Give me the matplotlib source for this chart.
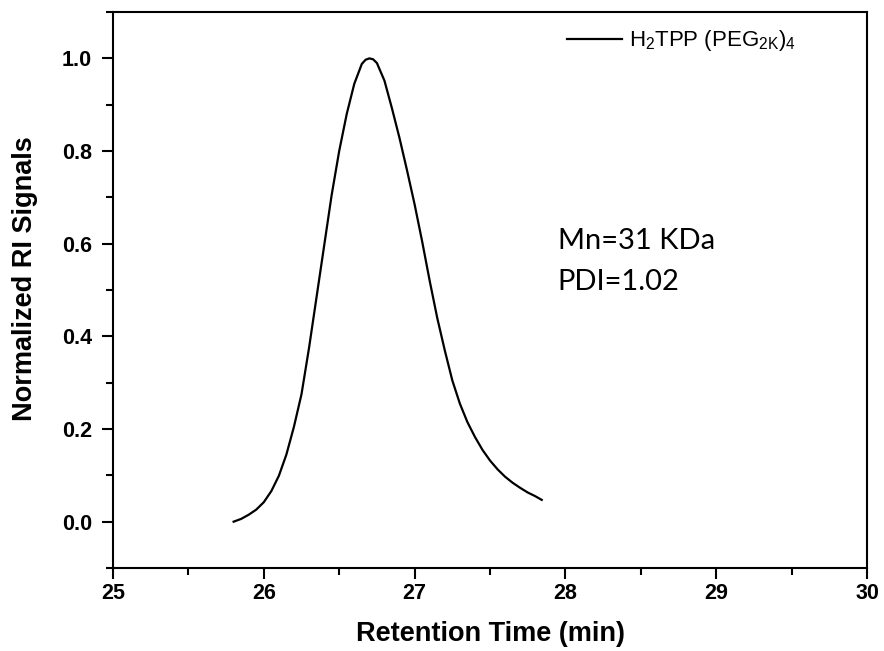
import matplotlib
matplotlib.use('Agg')
import matplotlib.pyplot as plt
from matplotlib.ticker import MultipleLocator

# ---- data ----
time_min = [25.80, 25.85, 25.90, 25.95, 26.00, 26.05, 26.10, 26.15, 26.20,
            26.25, 26.30, 26.35, 26.40, 26.45, 26.50, 26.55, 26.60, 26.65,
            26.675, 26.70, 26.725, 26.75, 26.80, 26.85, 26.90, 26.95, 27.00,
            27.05, 27.10, 27.15, 27.20, 27.25, 27.30, 27.35, 27.40, 27.45,
            27.50, 27.55, 27.60, 27.65, 27.70, 27.75, 27.80, 27.843]
ri_signal = [0.000, 0.006, 0.015, 0.026, 0.042, 0.066, 0.099, 0.145, 0.205,
             0.275, 0.375, 0.485, 0.595, 0.705, 0.800, 0.880, 0.945, 0.988,
             0.997, 1.000, 0.998, 0.990, 0.952, 0.892, 0.828, 0.758, 0.685,
             0.605, 0.520, 0.440, 0.370, 0.305, 0.255, 0.215, 0.183, 0.155,
             0.132, 0.113, 0.097, 0.084, 0.073, 0.063, 0.055, 0.047]
series_label = r'H$_2$TPP (PEG$_{2K}$)$_4$'
x_ticks = [25, 26, 27, 28, 29, 30]
y_ticks = [0.0, 0.2, 0.4, 0.6, 0.8, 1.0]
annotation_lines = ['Mn=31 KDa', 'PDI=1.02']
x_label = 'Retention Time (min)'
y_label = 'Normalized RI Signals'

plt.rcParams['mathtext.default'] = 'regular'
plt.rcParams['font.family'] = ['Liberation Sans', 'DejaVu Sans']

fig = plt.figure(figsize=(8.84, 6.51), dpi=100)
ax = fig.add_axes([0.1278, 0.1275, 0.853, 0.854])

ax.plot(time_min, ri_signal, color='black', lw=1.6, label=series_label)

ax.set_xlim(25, 30)
ax.set_ylim(-0.1, 1.1)
ax.set_xticks(x_ticks)
ax.set_xticklabels([str(t) for t in x_ticks])
ax.set_yticks(y_ticks)
ax.set_yticklabels([f'{t:.1f}' for t in y_ticks])
ax.xaxis.set_minor_locator(MultipleLocator(0.5))
ax.set_yticks([-0.1, 0.1, 0.3, 0.5, 0.7, 0.9, 1.1], minor=True)

for sp in ax.spines.values():
    sp.set_linewidth(1.5)
ax.tick_params(which='major', direction='out', length=8, width=1.5,
               labelsize=15.5, top=False, right=False)
ax.tick_params(which='minor', direction='out', length=5, width=1.5,
               top=False, right=False)
ax.tick_params(axis='x', which='major', pad=3)
ax.tick_params(axis='y', which='major', pad=7)
for lab in ax.get_xticklabels() + ax.get_yticklabels():
    lab.set_fontweight('bold')

ax.set_xlabel(x_label, fontsize=19.5, fontweight='bold', labelpad=12)
ax.set_ylabel(y_label, fontsize=19.5, fontweight='bold', labelpad=17)
ax.yaxis.label.set_y(0.52)

leg = ax.legend(loc='center left', bbox_to_anchor=(0.602, 0.948),
                frameon=False, borderpad=0, borderaxespad=0,
                handlelength=2.5, handletextpad=0.28,
                prop={'family': 'Liberation Sans', 'size': 16})

ax.text(27.95, 0.605, annotation_lines[0], fontsize=21, family='Lato',
        va='center', ha='left')
ax.text(27.95, 0.518, annotation_lines[1], fontsize=21, family='Lato',
        va='center', ha='left')

fig.savefig('out.png', dpi=100)
